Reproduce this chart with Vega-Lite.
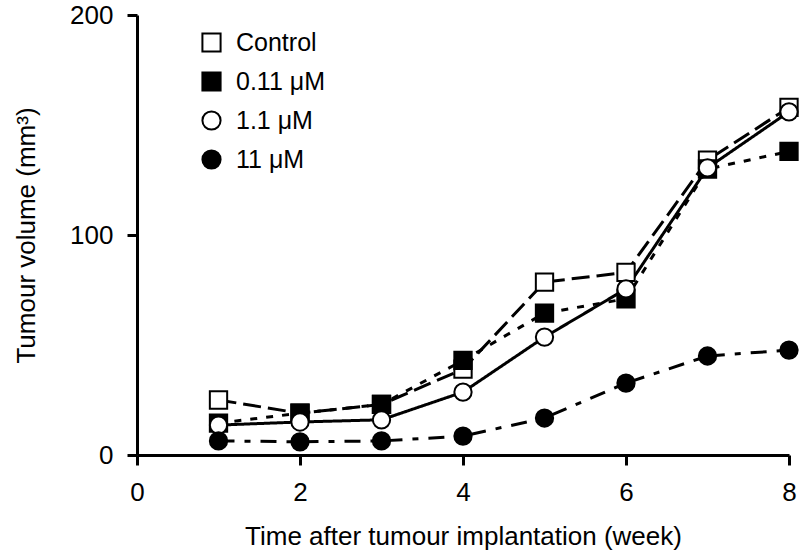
{
  "$schema": "https://vega.github.io/schema/vega-lite/v6.json",
  "width": 652,
  "height": 440,
  "autosize": {"type": "none"},
  "padding": {"left": 137, "top": 15, "right": 10, "bottom": 95},
  "config": {
    "font": "Liberation Sans",
    "view": {"stroke": null},
    "axis": {
      "grid": false,
      "domainColor": "black",
      "domainWidth": 3,
      "tickColor": "black",
      "tickWidth": 3,
      "tickSize": 10,
      "labelFontSize": 26,
      "labelColor": "black",
      "labelFont": "Liberation Sans",
      "labelFlush": false,
      "titleFont": "Liberation Sans",
      "titleFontSize": 26,
      "titleFontWeight": "normal",
      "titleColor": "black"
    },
    "legend": {
      "labelFontSize": 25,
      "labelFont": "Liberation Sans",
      "labelColor": "black"
    }
  },
  "data": {
    "values": [
      {"week": 1, "volume": 25, "group": "Control"},
      {"week": 2, "volume": 19, "group": "Control"},
      {"week": 3, "volume": 23, "group": "Control"},
      {"week": 4, "volume": 39, "group": "Control"},
      {"week": 5, "volume": 78.6, "group": "Control"},
      {"week": 6, "volume": 83, "group": "Control"},
      {"week": 7, "volume": 134, "group": "Control"},
      {"week": 8, "volume": 158, "group": "Control"},
      {"week": 1, "volume": 14.5, "group": "0.11 μM"},
      {"week": 2, "volume": 19, "group": "0.11 μM"},
      {"week": 3, "volume": 23, "group": "0.11 μM"},
      {"week": 4, "volume": 43, "group": "0.11 μM"},
      {"week": 5, "volume": 64.5, "group": "0.11 μM"},
      {"week": 6, "volume": 71, "group": "0.11 μM"},
      {"week": 7, "volume": 130, "group": "0.11 μM"},
      {"week": 8, "volume": 138, "group": "0.11 μM"},
      {"week": 1, "volume": 13.6, "group": "1.1 μM"},
      {"week": 2, "volume": 15, "group": "1.1 μM"},
      {"week": 3, "volume": 16, "group": "1.1 μM"},
      {"week": 4, "volume": 28.6, "group": "1.1 μM"},
      {"week": 5, "volume": 53.6, "group": "1.1 μM"},
      {"week": 6, "volume": 75.5, "group": "1.1 μM"},
      {"week": 7, "volume": 130.5, "group": "1.1 μM"},
      {"week": 8, "volume": 156, "group": "1.1 μM"},
      {"week": 1, "volume": 6.4, "group": "11 μM"},
      {"week": 2, "volume": 6, "group": "11 μM"},
      {"week": 3, "volume": 6.4, "group": "11 μM"},
      {"week": 4, "volume": 8.6, "group": "11 μM"},
      {"week": 5, "volume": 16.8, "group": "11 μM"},
      {"week": 6, "volume": 32.7, "group": "11 μM"},
      {"week": 7, "volume": 45, "group": "11 μM"},
      {"week": 8, "volume": 47.7, "group": "11 μM"}
    ]
  },
  "encoding": {
    "x": {
      "field": "week", "type": "quantitative",
      "scale": {"domain": [0, 8], "nice": false, "zero": false},
      "axis": {"values": [0, 2, 4, 6, 8], "title": "Time after tumour implantation (week)", "labelPadding": 14, "titlePadding": 18}
    },
    "y": {
      "field": "volume", "type": "quantitative",
      "scale": {"domain": [0, 200], "nice": false},
      "axis": {"values": [0, 100, 200], "title": "Tumour volume (mm³)", "labelPadding": 14, "titlePadding": 30}
    }
  },
  "layer": [
    {
      "mark": {"type": "line", "strokeWidth": 3, "color": "black"},
      "encoding": {
        "detail": {"field": "group"},
        "strokeDash": {
          "field": "group", "type": "nominal",
          "scale": {"range": [[7, 9], [1, 0], [16, 10, 6, 10], [18, 7]]},
          "legend": null
        }
      }
    },
    {
      "mark": {"type": "point", "filled": true, "stroke": "black", "strokeWidth": 2, "opacity": 1},
      "encoding": {
        "shape": {
          "field": "group", "type": "nominal",
          "scale": {"domain": ["Control", "0.11 μM", "1.1 μM", "11 μM"], "range": ["square", "square", "circle", "circle"]},
          "legend": {"title": null, "orient": "none", "legendX": 62, "legendY": 15, "symbolSize": 330, "symbolStrokeWidth": 2, "symbolStrokeColor": "black", "symbolOpacity": 1, "rowPadding": 12, "labelOffset": 12,
            "encode": {"symbols": {"update": {"stroke": {"value": "black"}, "strokeWidth": {"value": 2}}}}}
        },
        "fill": {
          "field": "group", "type": "nominal",
          "scale": {"domain": ["Control", "0.11 μM", "1.1 μM", "11 μM"], "range": ["white", "black", "white", "black"]},
          "legend": {"title": null, "orient": "none", "legendX": 62, "legendY": 15, "symbolSize": 330, "symbolStrokeWidth": 2, "symbolStrokeColor": "black", "symbolOpacity": 1, "rowPadding": 12, "labelOffset": 12,
            "encode": {"symbols": {"update": {"stroke": {"value": "black"}, "strokeWidth": {"value": 2}}}}}
        },
        "size": {"value": 300}
      }
    }
  ]
}
